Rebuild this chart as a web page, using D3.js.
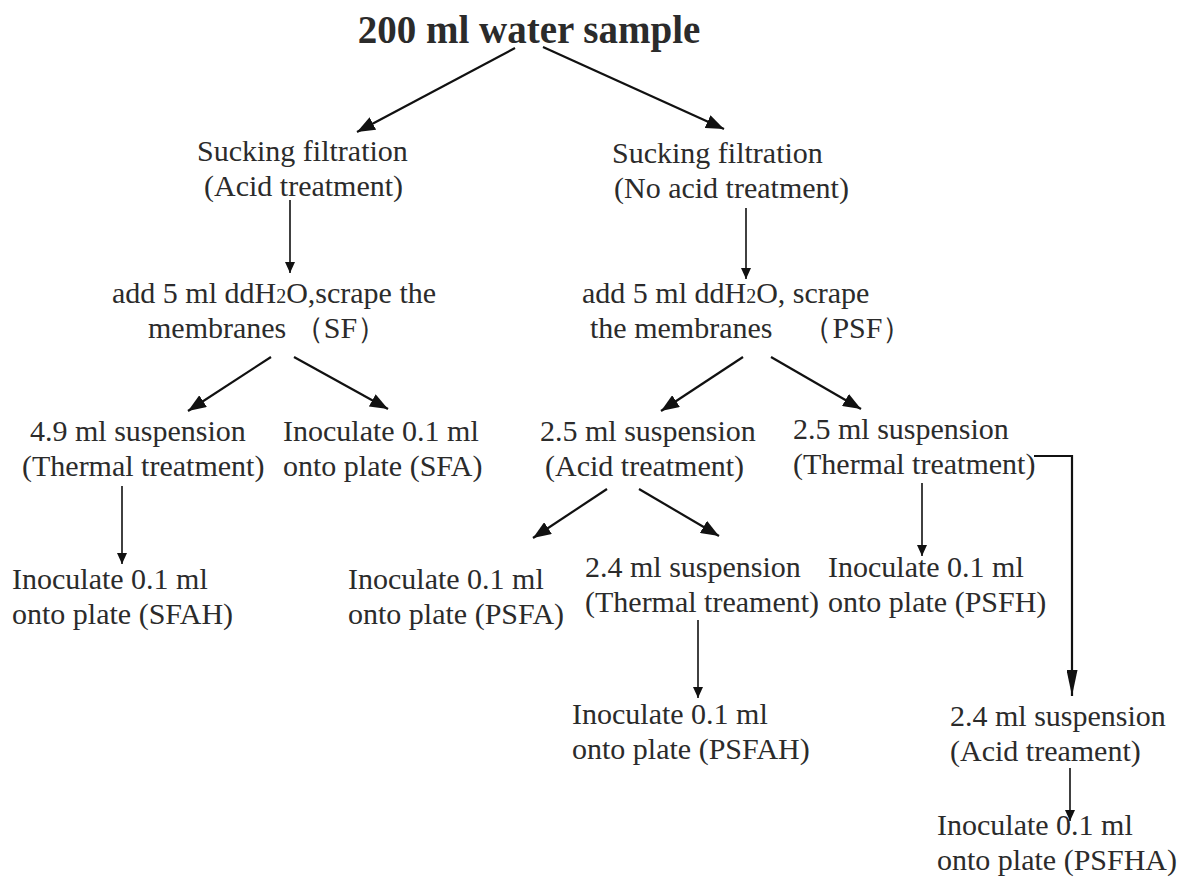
<!doctype html><html><head><meta charset="utf-8">
<style>
  body { margin: 0; background: #fff; }
  text { font-family: "Liberation Serif", "Times New Roman", serif; fill: #2b2b2b; }
</style>
</head><body><script src='https://d3js.org/d3.v7.min.js'></script>

<script>
  // node ids and the lines of text in each box
  const nodeIds = ["root", "sf1", "psf1", "sf2", "psf2", "s49", "sfa", "s25a", "s25t",
                   "sfah", "psfa", "s24t", "psfh", "psfah", "s24a", "psfha"];
  const nodeLines = [
    ["200 ml water sample"],
    ["Sucking filtration", "(Acid treatment)"],
    ["Sucking filtration", "(No acid treatment)"],
    ["add 5 ml ddH|2|O,scrape the", "membranes （SF）"],
    ["add 5 ml ddH|2|O, scrape", "the membranes　（PSF）"],
    ["4.9 ml suspension", "(Thermal treatment)"],
    ["Inoculate 0.1 ml", "onto plate (SFA)"],
    ["2.5 ml suspension", "(Acid treatment)"],
    ["2.5 ml suspension", "(Thermal treatment)"],
    ["Inoculate 0.1 ml", "onto plate (SFAH)"],
    ["Inoculate 0.1 ml", "onto plate (PSFA)"],
    ["2.4 ml suspension", "(Thermal treament)"],
    ["Inoculate 0.1 ml", "onto plate (PSFH)"],
    ["Inoculate 0.1 ml", "onto plate (PSFAH)"],
    ["2.4 ml suspension", "(Acid treament)"],
    ["Inoculate 0.1 ml", "onto plate (PSFHA)"]
  ];
  // parent -> child links
  const linkFrom = ["root", "root", "sf1", "psf1", "sf2", "sf2", "psf2", "psf2", "s49", "s25a", "s25a", "s25t", "s24t", "s25t", "s24a"];
  const linkTo   = ["sf1", "psf1", "sf2", "psf2", "s49", "sfa", "s25a", "s25t", "sfah", "psfa", "s24t", "psfh", "psfah", "s24a", "psfha"];

  // ---- layout (pixels) ----
  const W = 1181, H = 881;
  // left x of each text line and baseline of first line
  const textPos = {
    root:  {x: 529, y: 43, anchor: "middle"},
    sf1:   {x: [197, 204], y: 161},
    psf1:  {x: [612, 614], y: 163},
    sf2:   {x: [112, 148], y: 303},
    psf2:  {x: [582, 590], y: 303},
    s49:   {x: [30, 22], y: 441},
    sfa:   {x: [283, 283], y: 441},
    s25a:  {x: [540, 545], y: 441},
    s25t:  {x: [793, 793], y: 439},
    sfah:  {x: [12, 12], y: 589},
    psfa:  {x: [348, 348], y: 589},
    s24t:  {x: [585, 585], y: 577},
    psfh:  {x: [828, 828], y: 577},
    psfah: {x: [572, 572], y: 724},
    s24a:  {x: [950, 950], y: 726},
    psfha: {x: [937, 937], y: 835}
  };
  const lineGap = 35;
  // arrow routes, one per link
  const routes = [
    [[515, 48], [357, 132]],
    [[543, 47], [724, 129]],
    [[290, 200], [290, 273]],
    [[746, 208], [746, 279]],
    [[271, 357], [188, 411]],
    [[294, 357], [388, 409]],
    [[743, 357], [661, 411]],
    [[771, 357], [861, 409]],
    [[122, 486], [122, 564]],
    [[607, 489], [533, 538]],
    [[639, 489], [719, 536]],
    [[922, 483], [922, 556]],
    [[698, 620], [698, 698]],
    [[1034, 456], [1072, 456], [1072, 696]],
    [[1070, 768], [1070, 821]]
  ];

  const svg = d3.select("body").append("svg")
    .attr("width", W).attr("height", H);

  const defs = svg.append("defs");
  // big head for slanted arrows, small for straight drops, long for the elbow
  const heads = [
    {id: "big", len: 18, wid: 14},
    {id: "small", len: 11, wid: 10},
    {id: "long", len: 26, wid: 11}
  ];
  heads.forEach(function(h) {
    defs.append("marker")
      .attr("id", h.id)
      .attr("viewBox", "0 0 " + h.len + " " + h.wid)
      .attr("refX", h.len).attr("refY", h.wid / 2)
      .attr("markerWidth", h.len).attr("markerHeight", h.wid)
      .attr("markerUnits", "userSpaceOnUse")
      .attr("orient", "auto")
      .append("path")
      .attr("d", "M0,0 L" + h.len + "," + h.wid / 2 + " L0," + h.wid + " Z")
      .attr("fill", "#111");
  });

  function kind(pts) {
    if (pts.length > 2) return "long";
    return pts[0][0] === pts[1][0] ? "small" : "big";
  }

  const line = d3.line();
  svg.append("g").selectAll("path")
    .data(linkFrom.map((f, i) => ({from: f, to: linkTo[i], pts: routes[i]})))
    .enter().append("path")
    .attr("d", d => line(d.pts))
    .attr("fill", "none")
    .attr("stroke", "#111")
    .attr("stroke-width", d => kind(d.pts) === "small" ? 1.6 : 2.2)
    .attr("marker-end", d => "url(#" + kind(d.pts) + ")");

  const nodes = svg.append("g").selectAll("text")
    .data(nodeIds.map((id, i) => ({id: id, lines: nodeLines[i]})))
    .enter();

  nodes.each(function(d) {
    const p = textPos[d.id];
    d.lines.forEach(function(s, j) {
      const t = svg.append("text")
        .attr("x", Array.isArray(p.x) ? p.x[j] : p.x)
        .attr("y", p.y + j * lineGap)
        .attr("text-anchor", p.anchor || "start")
        .style("font-size", d.id === "root" ? "39px" : "30px")
        .style("font-weight", d.id === "root" ? "bold" : "normal");
      // "|2|" marks a small subscript digit
      s.split("|").forEach(function(part, k) {
        const ts = t.append("tspan").text(part);
        if (k % 2 === 1) ts.style("font-size", "20px");
      });
    });
  });
</script></body></html>
